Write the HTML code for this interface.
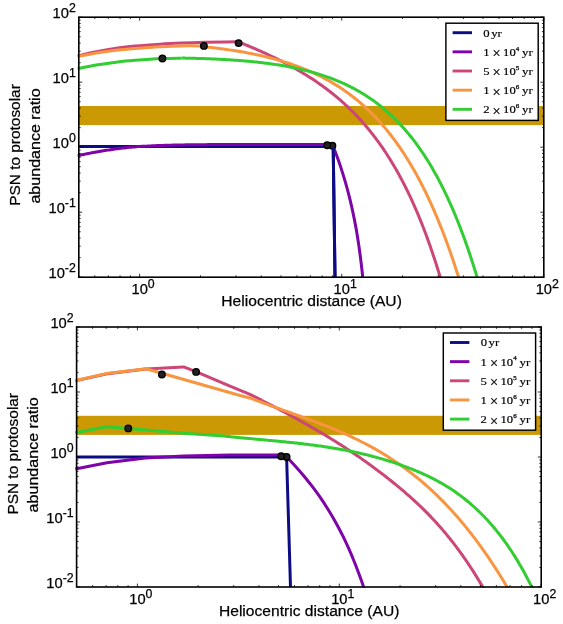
<!DOCTYPE html>
<html><head><meta charset="utf-8"><title>PSN abundance</title>
<style>
html,body{margin:0;padding:0;background:#fff;}
body{width:563px;height:624px;overflow:hidden;}
svg{display:block;}
text{fill:#000;stroke:#000;stroke-width:0.25px;}
svg{will-change:transform;}
.tl{font-family:"Liberation Sans",sans-serif;font-size:14.7px;}
.sp{font-size:12.3px;}
.al{font-family:"Liberation Sans",sans-serif;font-size:15.3px;}
.lg{font-family:"Liberation Serif",serif;font-size:11.2px;stroke-width:0.18px;}
.lsp{font-family:"Liberation Serif",serif;font-size:6.5px;}
.lx{font-family:"Liberation Serif",serif;font-size:14.4px;}
</style></head><body>
<svg width="563" height="624" viewBox="0 0 563 624">
<rect width="563" height="624" fill="#fff"/>
<clipPath id="c17"><rect x="77.30" y="17.20" width="466.50" height="260.60"/></clipPath>
<g clip-path="url(#c17)">
<rect x="78.80" y="106.00" width="465.00" height="19.10" fill="#cb9904"/>
<path d="M78.80,146.50 L333.20,146.50 L335.00,277.20" fill="none" stroke="#0c0c84" stroke-width="3.0" stroke-linejoin="round" stroke-linecap="butt"/>
<path d="M77.50,155.70 L78.35,155.53 L79.41,155.31 L80.66,155.05 L82.06,154.76 L83.58,154.45 L85.19,154.12 L86.86,153.78 L88.56,153.44 L90.25,153.10 L91.91,152.78 L93.50,152.47 L95.00,152.20 L96.43,151.95 L97.84,151.70 L99.24,151.46 L100.63,151.23 L102.02,151.00 L103.41,150.78 L104.80,150.56 L106.20,150.34 L107.62,150.13 L109.06,149.92 L110.51,149.71 L112.00,149.50 L113.50,149.29 L114.99,149.08 L116.49,148.88 L118.00,148.67 L119.52,148.47 L121.06,148.28 L122.63,148.08 L124.22,147.89 L125.85,147.71 L127.52,147.53 L129.24,147.36 L131.00,147.20 L132.79,147.05 L134.58,146.90 L136.39,146.75 L138.22,146.62 L140.09,146.49 L142.00,146.36 L143.97,146.24 L146.00,146.13 L148.11,146.01 L150.31,145.91 L152.60,145.80 L155.00,145.70 L157.48,145.60 L160.02,145.51 L162.62,145.42 L165.30,145.33 L168.04,145.25 L170.88,145.17 L173.80,145.10 L176.81,145.03 L179.94,144.97 L183.17,144.91 L186.52,144.85 L190.00,144.80 L193.61,144.75 L197.35,144.71 L201.21,144.68 L205.19,144.64 L209.26,144.62 L213.44,144.59 L217.70,144.57 L222.04,144.56 L226.45,144.54 L230.91,144.53 L235.44,144.51 L240.00,144.50 L244.74,144.49 L249.75,144.48 L254.96,144.48 L260.31,144.48 L265.73,144.48 L271.16,144.48 L276.51,144.48 L281.74,144.49 L286.77,144.49 L291.53,144.50 L295.97,144.50 L300.00,144.50 L303.72,144.50 L307.26,144.50 L310.62,144.50 L313.78,144.50 L316.74,144.50 L319.50,144.50 L322.05,144.50 L324.39,144.50 L326.51,144.50 L328.40,144.50 L330.07,144.50 L331.50,144.50 L332.39,144.60 L333.20,146.60 L333.99,148.60 L334.77,150.60 L335.54,152.60 L336.29,154.60 L337.03,156.60 L337.75,158.60 L338.47,160.60 L339.17,162.60 L339.85,164.60 L340.53,166.60 L341.19,168.60 L341.84,170.60 L342.48,172.60 L343.11,174.60 L343.73,176.60 L344.33,178.60 L344.92,180.60 L345.50,182.60 L346.07,184.60 L346.63,186.60 L347.18,188.60 L347.72,190.60 L348.25,192.60 L348.76,194.60 L349.27,196.60 L349.77,198.60 L350.25,200.60 L350.73,202.60 L351.19,204.60 L351.65,206.60 L352.10,208.60 L352.54,210.60 L352.96,212.60 L353.38,214.60 L353.79,216.60 L354.20,218.60 L354.59,220.60 L354.97,222.60 L355.35,224.60 L355.72,226.60 L356.08,228.60 L356.43,230.60 L356.77,232.60 L357.11,234.60 L357.44,236.60 L357.76,238.60 L358.07,240.60 L358.38,242.60 L358.68,244.60 L358.98,246.60 L359.26,248.60 L359.54,250.60 L359.81,252.60 L360.08,254.60 L360.34,256.60 L360.60,258.60 L360.85,260.60 L361.09,262.60 L361.33,264.60 L361.56,266.60 L361.79,268.60 L362.01,270.60 L362.22,272.60 L362.44,274.60 L362.64,276.60 L362.84,278.60 L363.04,280.60" fill="none" stroke="#7e03a8" stroke-width="3.0" stroke-linejoin="round" stroke-linecap="butt"/>
<path d="M77.50,56.00 C80.63,55.30 89.62,53.12 96.30,51.80 C102.98,50.48 111.15,49.05 117.60,48.10 C124.05,47.15 127.88,46.75 135.00,46.10 C142.12,45.45 152.53,44.70 160.30,44.20 C168.07,43.70 174.15,43.42 181.60,43.10 C189.05,42.78 197.77,42.50 205.00,42.30 C212.23,42.10 219.58,41.98 225.00,41.90 C230.42,41.82 235.42,41.82 237.50,41.80" fill="none" stroke="#cc4778" stroke-width="3.0" stroke-linejoin="round" stroke-linecap="butt"/>
<path d="M237.50,41.48 L239.00,42.08 L240.50,42.68 L242.00,43.29 L243.50,43.90 L245.00,44.52 L246.50,45.14 L248.00,45.76 L249.50,46.39 L251.00,47.03 L252.50,47.67 L254.00,48.31 L255.50,48.96 L257.00,49.62 L258.50,50.28 L260.00,50.94 L261.50,51.61 L263.00,52.29 L264.50,52.98 L266.00,53.67 L267.50,54.36 L269.00,55.06 L270.50,55.77 L272.00,56.49 L273.50,57.21 L275.00,57.94 L276.50,58.68 L278.00,59.42 L279.50,60.17 L281.00,60.93 L282.50,61.70 L284.00,62.48 L285.50,63.26 L287.00,64.06 L288.50,64.86 L290.00,65.67 L291.50,66.49 L293.00,67.32 L294.50,68.16 L296.00,69.01 L297.50,69.88 L299.00,70.75 L300.50,71.63 L302.00,72.52 L303.50,73.43 L305.00,74.34 L306.50,75.27 L308.00,76.21 L309.50,77.17 L311.00,78.13 L312.50,79.11 L314.00,80.11 L315.50,81.11 L317.00,82.13 L318.50,83.17 L320.00,84.22 L321.50,85.29 L323.00,86.37 L324.50,87.47 L326.00,88.58 L327.50,89.71 L329.00,90.86 L330.50,92.03 L332.00,93.22 L333.50,94.42 L335.00,95.64 L336.50,96.89 L338.00,98.15 L339.50,99.44 L341.00,100.74 L342.50,102.07 L344.00,103.42 L345.50,104.79 L347.00,106.19 L348.50,107.61 L350.00,109.05 L351.50,110.52 L353.00,112.02 L354.49,113.53 L355.97,115.06 L357.43,116.59 L358.87,118.13 L360.29,119.68 L361.69,121.23 L363.08,122.80 L364.45,124.37 L365.81,125.95 L367.15,127.53 L368.47,129.13 L369.78,130.73 L371.08,132.34 L372.36,133.96 L373.62,135.59 L374.87,137.22 L376.11,138.87 L377.33,140.52 L378.54,142.18 L379.74,143.84 L380.92,145.52 L382.09,147.20 L383.25,148.89 L384.39,150.58 L385.53,152.29 L386.65,154.00 L387.76,155.72 L388.86,157.45 L389.94,159.18 L391.02,160.92 L392.08,162.67 L393.14,164.43 L394.18,166.20 L395.21,167.97 L396.24,169.75 L397.25,171.54 L398.25,173.33 L399.24,175.13 L400.23,176.94 L401.20,178.76 L402.17,180.59 L403.12,182.42 L404.07,184.26 L405.01,186.10 L405.94,187.96 L406.86,189.82 L407.77,191.69 L408.67,193.56 L409.57,195.44 L410.46,197.33 L411.34,199.23 L412.21,201.13 L413.08,203.05 L413.93,204.96 L414.78,206.89 L415.63,208.82 L416.46,210.76 L417.29,212.71 L418.11,214.66 L418.93,216.62 L419.73,218.59 L420.54,220.56 L421.33,222.54 L422.12,224.53 L422.90,226.52 L423.68,228.52 L424.45,230.53 L425.21,232.55 L425.97,234.57 L426.72,236.60 L427.47,238.63 L428.21,240.67 L428.94,242.72 L429.67,244.77 L430.39,246.84 L431.11,248.90 L431.82,250.98 L432.53,253.06 L433.23,255.15 L433.93,257.24 L434.62,259.34 L435.31,261.45 L435.99,263.56 L436.67,265.68 L437.34,267.81 L438.01,269.94 L438.67,272.08 L439.33,274.23 L439.98,276.38 L440.63,278.54 L441.28,280.70" fill="none" stroke="#cc4778" stroke-width="3.0" stroke-linejoin="round" stroke-linecap="butt"/>
<path d="M77.50,56.60 C80.63,55.98 89.62,54.00 96.30,52.90 C102.98,51.80 111.15,50.73 117.60,50.00 C124.05,49.27 127.88,49.03 135.00,48.50 C142.12,47.97 152.53,47.23 160.30,46.80 C168.07,46.37 174.33,46.05 181.60,45.90 C188.87,45.75 200.18,45.90 203.90,45.90" fill="none" stroke="#f89540" stroke-width="3.0" stroke-linejoin="round" stroke-linecap="butt"/>
<path d="M203.90,46.72 L205.40,46.88 L206.90,47.04 L208.40,47.20 L209.90,47.37 L211.40,47.54 L212.90,47.71 L214.40,47.89 L215.90,48.07 L217.40,48.26 L218.90,48.45 L220.40,48.64 L221.90,48.84 L223.40,49.04 L224.90,49.24 L226.40,49.45 L227.90,49.66 L229.40,49.88 L230.90,50.11 L232.40,50.33 L233.90,50.56 L235.40,50.80 L236.90,51.04 L238.40,51.29 L239.90,51.54 L241.40,51.80 L242.90,52.06 L244.40,52.33 L245.90,52.60 L247.40,52.88 L248.90,53.17 L250.40,53.46 L251.90,53.75 L253.40,54.06 L254.90,54.36 L256.40,54.68 L257.90,55.00 L259.40,55.33 L260.90,55.66 L262.40,56.01 L263.90,56.36 L265.40,56.71 L266.90,57.08 L268.40,57.45 L269.90,57.82 L271.40,58.21 L272.90,58.60 L274.40,59.01 L275.90,59.42 L277.40,59.84 L278.90,60.26 L280.40,60.70 L281.90,61.15 L283.40,61.60 L284.90,62.06 L286.40,62.54 L287.90,63.02 L289.40,63.51 L290.90,64.01 L292.40,64.53 L293.90,65.05 L295.40,65.58 L296.90,66.13 L298.40,66.68 L299.90,67.25 L301.40,67.83 L302.90,68.42 L304.40,69.02 L305.90,69.64 L307.40,70.27 L308.90,70.91 L310.40,71.56 L311.90,72.23 L313.40,72.91 L314.90,73.60 L316.40,74.31 L317.90,75.03 L319.40,75.77 L320.90,76.52 L322.40,77.29 L323.90,78.07 L325.40,78.87 L326.90,79.68 L328.40,80.52 L329.90,81.36 L331.40,82.23 L332.90,83.11 L334.40,84.01 L335.90,84.93 L337.40,85.87 L338.90,86.83 L340.40,87.81 L341.90,88.80 L343.40,89.82 L344.90,90.86 L346.40,91.91 L347.90,92.99 L349.40,94.10 L350.90,95.22 L352.40,96.37 L353.90,97.54 L355.40,98.73 L356.90,99.95 L358.40,101.19 L359.90,102.46 L361.40,103.75 L362.90,105.07 L364.40,106.42 L365.90,107.79 L367.40,109.19 L368.90,110.62 L370.40,112.08 L371.90,113.57 L373.40,115.09 L374.87,116.61 L376.33,118.14 L377.77,119.69 L379.19,121.24 L380.59,122.80 L381.97,124.37 L383.33,125.94 L384.68,127.53 L386.01,129.12 L387.32,130.72 L388.61,132.34 L389.90,133.95 L391.16,135.58 L392.41,137.22 L393.65,138.86 L394.87,140.51 L396.08,142.17 L397.28,143.84 L398.46,145.51 L399.63,147.19 L400.78,148.88 L401.93,150.58 L403.06,152.29 L404.18,154.00 L405.28,155.72 L406.38,157.45 L407.47,159.18 L408.54,160.93 L409.60,162.68 L410.66,164.43 L411.70,166.20 L412.73,167.97 L413.76,169.75 L414.77,171.54 L415.77,173.33 L416.77,175.13 L417.75,176.94 L418.73,178.76 L419.70,180.58 L420.65,182.41 L421.60,184.24 L422.55,186.09 L423.48,187.94 L424.40,189.79 L425.32,191.66 L426.23,193.53 L427.13,195.40 L428.03,197.29 L428.91,199.18 L429.79,201.07 L430.67,202.98 L431.53,204.89 L432.39,206.80 L433.24,208.72 L434.09,210.65 L434.92,212.59 L435.76,214.53 L436.58,216.48 L437.40,218.44 L438.21,220.40 L439.02,222.36 L439.82,224.34 L440.61,226.32 L441.40,228.30 L442.19,230.30 L442.96,232.30 L443.73,234.30 L444.50,236.31 L445.26,238.33 L446.02,240.35 L446.77,242.38 L447.51,244.42 L448.25,246.46 L448.98,248.50 L449.71,250.56 L450.44,252.62 L451.16,254.68 L451.87,256.75 L452.58,258.83 L453.29,260.91 L453.99,263.00 L454.68,265.09 L455.38,267.19 L456.06,269.30 L456.75,271.41 L457.42,273.53 L458.10,275.65 L458.77,277.78 L459.43,279.91 L460.10,282.05" fill="none" stroke="#f89540" stroke-width="3.0" stroke-linejoin="round" stroke-linecap="butt"/>
<path d="M77.50,68.70 C80.63,68.08 89.62,66.13 96.30,65.00 C102.98,63.87 111.15,62.68 117.60,61.90 C124.05,61.12 127.53,60.85 135.00,60.30 C142.47,59.75 154.63,58.95 162.40,58.60 C170.17,58.25 178.40,58.27 181.60,58.20" fill="none" stroke="#32cd32" stroke-width="3.0" stroke-linejoin="round" stroke-linecap="butt"/>
<path d="M181.60,58.05 L183.10,58.07 L184.60,58.10 L186.10,58.13 L187.60,58.16 L189.10,58.19 L190.60,58.22 L192.10,58.26 L193.60,58.30 L195.10,58.33 L196.60,58.38 L198.10,58.42 L199.60,58.46 L201.10,58.51 L202.60,58.56 L204.10,58.61 L205.60,58.66 L207.10,58.71 L208.60,58.77 L210.10,58.83 L211.60,58.89 L213.10,58.96 L214.60,59.02 L216.10,59.09 L217.60,59.16 L219.10,59.24 L220.60,59.31 L222.10,59.39 L223.60,59.47 L225.10,59.56 L226.60,59.64 L228.10,59.73 L229.60,59.83 L231.10,59.92 L232.60,60.02 L234.10,60.13 L235.60,60.23 L237.10,60.34 L238.60,60.45 L240.10,60.57 L241.60,60.69 L243.10,60.81 L244.60,60.94 L246.10,61.07 L247.60,61.20 L249.10,61.34 L250.60,61.48 L252.10,61.63 L253.60,61.78 L255.10,61.94 L256.60,62.10 L258.10,62.26 L259.60,62.43 L261.10,62.60 L262.60,62.78 L264.10,62.96 L265.60,63.15 L267.10,63.34 L268.60,63.54 L270.10,63.74 L271.60,63.95 L273.10,64.17 L274.60,64.39 L276.10,64.61 L277.60,64.85 L279.10,65.08 L280.60,65.33 L282.10,65.58 L283.60,65.84 L285.10,66.10 L286.60,66.37 L288.10,66.65 L289.60,66.93 L291.10,67.22 L292.60,67.52 L294.10,67.83 L295.60,68.15 L297.10,68.47 L298.60,68.80 L300.10,69.14 L301.60,69.48 L303.10,69.84 L304.60,70.20 L306.10,70.58 L307.60,70.96 L309.10,71.35 L310.60,71.75 L312.10,72.16 L313.60,72.59 L315.10,73.02 L316.60,73.46 L318.10,73.91 L319.60,74.38 L321.10,74.85 L322.60,75.34 L324.10,75.84 L325.60,76.35 L327.10,76.87 L328.60,77.40 L330.10,77.95 L331.60,78.51 L333.10,79.08 L334.60,79.67 L336.10,80.27 L337.60,80.89 L339.10,81.52 L340.60,82.16 L342.10,82.82 L343.60,83.49 L345.10,84.18 L346.60,84.89 L348.10,85.61 L349.60,86.36 L351.10,87.11 L352.60,87.89 L354.10,88.68 L355.60,89.49 L357.10,90.32 L358.60,91.17 L360.10,92.04 L361.60,92.93 L363.10,93.84 L364.60,94.77 L366.10,95.72 L367.60,96.69 L369.10,97.69 L370.60,98.71 L372.10,99.75 L373.60,100.82 L375.10,101.91 L376.60,103.02 L378.10,104.16 L379.60,105.33 L381.10,106.52 L382.60,107.74 L384.10,108.99 L385.60,110.27 L387.10,111.58 L388.60,112.91 L390.10,114.28 L391.60,115.67 L393.10,117.10 L394.60,118.56 L396.10,120.05 L397.59,121.57 L399.06,123.10 L400.51,124.64 L401.94,126.19 L403.34,127.75 L404.73,129.32 L406.09,130.90 L407.44,132.48 L408.76,134.08 L410.07,135.69 L411.36,137.30 L412.64,138.93 L413.89,140.56 L415.14,142.20 L416.36,143.85 L417.57,145.51 L418.77,147.18 L419.95,148.86 L421.11,150.54 L422.26,152.24 L423.40,153.94 L424.53,155.65 L425.64,157.37 L426.74,159.10 L427.82,160.83 L428.90,162.58 L429.96,164.33 L431.01,166.09 L432.05,167.86 L433.08,169.63 L434.10,171.42 L435.11,173.21 L436.10,175.01 L437.09,176.82 L438.07,178.64 L439.04,180.46 L439.99,182.29 L440.94,184.13 L441.88,185.97 L442.81,187.83 L443.73,189.69 L444.64,191.56 L445.55,193.43 L446.44,195.32 L447.33,197.21 L448.21,199.11 L449.08,201.01 L449.94,202.92 L450.80,204.84 L451.65,206.77 L452.49,208.70 L453.32,210.64 L454.15,212.59 L454.97,214.55 L455.78,216.51 L456.59,218.48 L457.39,220.45 L458.18,222.44 L458.97,224.43 L459.75,226.42 L460.52,228.42 L461.29,230.43 L462.06,232.45 L462.81,234.47 L463.56,236.50 L464.31,238.54 L465.05,240.58 L465.78,242.63 L466.51,244.69 L467.23,246.75 L467.95,248.82 L468.66,250.89 L469.36,252.97 L470.07,255.06 L470.76,257.16 L471.45,259.26 L472.14,261.36 L472.82,263.48 L473.50,265.60 L474.17,267.72 L474.84,269.86 L475.51,271.99 L476.16,274.14 L476.82,276.29 L477.47,278.44 L478.11,280.61" fill="none" stroke="#32cd32" stroke-width="3.0" stroke-linejoin="round" stroke-linecap="butt"/>
<circle cx="162.40" cy="58.50" r="3.25" fill="#222" stroke="#000" stroke-width="1.4"/>
<circle cx="203.90" cy="45.90" r="3.25" fill="#222" stroke="#000" stroke-width="1.4"/>
<circle cx="238.60" cy="43.10" r="3.25" fill="#222" stroke="#000" stroke-width="1.4"/>
<circle cx="332.40" cy="145.80" r="3.25" fill="#222" stroke="#000" stroke-width="1.4"/>
<circle cx="327.20" cy="145.20" r="3.25" fill="#222" stroke="#000" stroke-width="1.4"/>
<path d="M333.20,147.50 L335.00,277.20" fill="none" stroke="#0c0c84" stroke-width="3.0"/>
</g>
<path d="M78.80,277.20 v-1.90 M78.80,17.20 v1.90 M94.80,277.20 v-1.90 M94.80,17.20 v1.90 M108.33,277.20 v-1.90 M108.33,17.20 v1.90 M120.05,277.20 v-1.90 M120.05,17.20 v1.90 M130.39,277.20 v-1.90 M130.39,17.20 v1.90 M139.63,277.20 v-3.40 M139.63,17.20 v3.40 M200.47,277.20 v-1.90 M200.47,17.20 v1.90 M236.05,277.20 v-1.90 M236.05,17.20 v1.90 M261.30,277.20 v-1.90 M261.30,17.20 v1.90 M280.88,277.20 v-1.90 M280.88,17.20 v1.90 M296.88,277.20 v-1.90 M296.88,17.20 v1.90 M310.41,277.20 v-1.90 M310.41,17.20 v1.90 M322.13,277.20 v-1.90 M322.13,17.20 v1.90 M332.47,277.20 v-1.90 M332.47,17.20 v1.90 M341.72,277.20 v-3.40 M341.72,17.20 v3.40 M402.55,277.20 v-1.90 M402.55,17.20 v1.90 M438.13,277.20 v-1.90 M438.13,17.20 v1.90 M463.38,277.20 v-1.90 M463.38,17.20 v1.90 M482.97,277.20 v-1.90 M482.97,17.20 v1.90 M498.97,277.20 v-1.90 M498.97,17.20 v1.90 M512.50,277.20 v-1.90 M512.50,17.20 v1.90 M524.22,277.20 v-1.90 M524.22,17.20 v1.90 M534.55,277.20 v-1.90 M534.55,17.20 v1.90 M543.80,277.20 v-3.40 M543.80,17.20 v3.40 M78.80,277.20 h3.40 M543.80,277.20 h-3.40 M78.80,257.63 h1.90 M543.80,257.63 h-1.90 M78.80,246.19 h1.90 M543.80,246.19 h-1.90 M78.80,238.07 h1.90 M543.80,238.07 h-1.90 M78.80,231.77 h1.90 M543.80,231.77 h-1.90 M78.80,226.62 h1.90 M543.80,226.62 h-1.90 M78.80,222.27 h1.90 M543.80,222.27 h-1.90 M78.80,218.50 h1.90 M543.80,218.50 h-1.90 M78.80,215.17 h1.90 M543.80,215.17 h-1.90 M78.80,212.20 h3.40 M543.80,212.20 h-3.40 M78.80,192.63 h1.90 M543.80,192.63 h-1.90 M78.80,181.19 h1.90 M543.80,181.19 h-1.90 M78.80,173.07 h1.90 M543.80,173.07 h-1.90 M78.80,166.77 h1.90 M543.80,166.77 h-1.90 M78.80,161.62 h1.90 M543.80,161.62 h-1.90 M78.80,157.27 h1.90 M543.80,157.27 h-1.90 M78.80,153.50 h1.90 M543.80,153.50 h-1.90 M78.80,150.17 h1.90 M543.80,150.17 h-1.90 M78.80,147.20 h3.40 M543.80,147.20 h-3.40 M78.80,127.63 h1.90 M543.80,127.63 h-1.90 M78.80,116.19 h1.90 M543.80,116.19 h-1.90 M78.80,108.07 h1.90 M543.80,108.07 h-1.90 M78.80,101.77 h1.90 M543.80,101.77 h-1.90 M78.80,96.62 h1.90 M543.80,96.62 h-1.90 M78.80,92.27 h1.90 M543.80,92.27 h-1.90 M78.80,88.50 h1.90 M543.80,88.50 h-1.90 M78.80,85.17 h1.90 M543.80,85.17 h-1.90 M78.80,82.20 h3.40 M543.80,82.20 h-3.40 M78.80,62.63 h1.90 M543.80,62.63 h-1.90 M78.80,51.19 h1.90 M543.80,51.19 h-1.90 M78.80,43.07 h1.90 M543.80,43.07 h-1.90 M78.80,36.77 h1.90 M543.80,36.77 h-1.90 M78.80,31.62 h1.90 M543.80,31.62 h-1.90 M78.80,27.27 h1.90 M543.80,27.27 h-1.90 M78.80,23.50 h1.90 M543.80,23.50 h-1.90 M78.80,20.17 h1.90 M543.80,20.17 h-1.90 M78.80,17.20 h3.40 M543.80,17.20 h-3.40" stroke="#000" stroke-width="0.8" fill="none"/>
<rect x="78.80" y="17.20" width="465.00" height="260.00" fill="none" stroke="#000" stroke-width="1.6"/>
<text x="75.80" y="277.70" text-anchor="end" class="tl">10<tspan class="sp" dy="-5.3">-2</tspan></text>
<text x="75.80" y="212.70" text-anchor="end" class="tl">10<tspan class="sp" dy="-5.3">-1</tspan></text>
<text x="75.80" y="147.70" text-anchor="end" class="tl">10<tspan class="sp" dy="-5.3">0</tspan></text>
<text x="75.80" y="82.70" text-anchor="end" class="tl">10<tspan class="sp" dy="-5.3">1</tspan></text>
<text x="75.80" y="17.70" text-anchor="end" class="tl">10<tspan class="sp" dy="-5.3">2</tspan></text>
<text x="131.53" y="293.70" text-anchor="start" class="tl">10<tspan class="sp" dy="-5.3">0</tspan></text>
<text x="333.62" y="293.70" text-anchor="start" class="tl">10<tspan class="sp" dy="-5.3">1</tspan></text>
<text x="535.70" y="293.70" text-anchor="start" class="tl">10<tspan class="sp" dy="-5.3">2</tspan></text>
<text x="311.60" y="305.90" text-anchor="middle" class="al" textLength="180.5" lengthAdjust="spacingAndGlyphs">Heliocentric distance (AU)</text>
<text transform="translate(20.20,145.00) rotate(-90)" text-anchor="middle" class="al" textLength="121.6" lengthAdjust="spacingAndGlyphs">PSN to protosolar</text>
<text transform="translate(40.10,146.00) rotate(-90)" text-anchor="middle" class="al" textLength="115.2" lengthAdjust="spacingAndGlyphs">abundance ratio</text>
<rect x="445.90" y="23.20" width="92.3" height="97.2" fill="#fff" stroke="#000" stroke-width="1.45"/>
<path d="M452.60,32.70 h19.4" stroke="#0c0c84" stroke-width="2.9"/>
<text x="483.30" y="36.60" class="lg" textLength="6.33" lengthAdjust="spacingAndGlyphs">0</text>
<text x="491.20" y="36.60" class="lg" textLength="10.70" lengthAdjust="spacingAndGlyphs">yr</text>
<path d="M452.60,51.85 h19.4" stroke="#7e03a8" stroke-width="2.9"/>
<text x="483.20" y="55.75" class="lg" textLength="6.33" lengthAdjust="spacingAndGlyphs">1</text>
<text x="492.50" y="58.25" class="lx" textLength="8.12" lengthAdjust="spacingAndGlyphs">×</text>
<text x="503.10" y="55.75" class="lg" textLength="12.66" lengthAdjust="spacingAndGlyphs">10</text>
<text x="515.80" y="50.65" class="lsp" textLength="3.50" lengthAdjust="spacingAndGlyphs">4</text>
<text x="522.10" y="55.75" class="lg" textLength="10.70" lengthAdjust="spacingAndGlyphs">yr</text>
<path d="M452.60,71.00 h19.4" stroke="#cc4778" stroke-width="2.9"/>
<text x="483.20" y="74.90" class="lg" textLength="6.33" lengthAdjust="spacingAndGlyphs">5</text>
<text x="492.50" y="77.40" class="lx" textLength="8.12" lengthAdjust="spacingAndGlyphs">×</text>
<text x="503.10" y="74.90" class="lg" textLength="12.66" lengthAdjust="spacingAndGlyphs">10</text>
<text x="515.80" y="69.80" class="lsp" textLength="3.50" lengthAdjust="spacingAndGlyphs">5</text>
<text x="522.10" y="74.90" class="lg" textLength="10.70" lengthAdjust="spacingAndGlyphs">yr</text>
<path d="M452.60,90.15 h19.4" stroke="#f89540" stroke-width="2.9"/>
<text x="483.20" y="94.05" class="lg" textLength="6.33" lengthAdjust="spacingAndGlyphs">1</text>
<text x="492.50" y="96.55" class="lx" textLength="8.12" lengthAdjust="spacingAndGlyphs">×</text>
<text x="503.10" y="94.05" class="lg" textLength="12.66" lengthAdjust="spacingAndGlyphs">10</text>
<text x="515.80" y="88.95" class="lsp" textLength="3.50" lengthAdjust="spacingAndGlyphs">6</text>
<text x="522.10" y="94.05" class="lg" textLength="10.70" lengthAdjust="spacingAndGlyphs">yr</text>
<path d="M452.60,109.30 h19.4" stroke="#32cd32" stroke-width="2.9"/>
<text x="483.20" y="113.20" class="lg" textLength="6.33" lengthAdjust="spacingAndGlyphs">2</text>
<text x="492.50" y="115.70" class="lx" textLength="8.12" lengthAdjust="spacingAndGlyphs">×</text>
<text x="503.10" y="113.20" class="lg" textLength="12.66" lengthAdjust="spacingAndGlyphs">10</text>
<text x="515.80" y="108.10" class="lsp" textLength="3.50" lengthAdjust="spacingAndGlyphs">6</text>
<text x="522.10" y="113.20" class="lg" textLength="10.70" lengthAdjust="spacingAndGlyphs">yr</text>
<clipPath id="c327"><rect x="75.10" y="327.00" width="466.10" height="260.60"/></clipPath>
<g clip-path="url(#c327)">
<rect x="76.60" y="415.80" width="464.60" height="19.10" fill="#cb9904"/>
<path d="M76.60,457.00 L286.60,457.00 L290.50,587.00" fill="none" stroke="#0c0c84" stroke-width="3.0" stroke-linejoin="round" stroke-linecap="butt"/>
<path d="M75.30,469.00 L106.90,462.80 L145.30,457.90 L183.70,455.90 L230.00,455.10 L284.50,455.00 L284.93,455.20 L286.90,457.20 L288.84,459.20 L290.74,461.20 L292.62,463.20 L294.46,465.20 L296.27,467.20 L298.06,469.20 L299.81,471.20 L301.53,473.20 L303.23,475.20 L304.89,477.20 L306.53,479.20 L308.14,481.20 L309.72,483.20 L311.27,485.20 L312.80,487.20 L314.30,489.20 L315.78,491.20 L317.23,493.20 L318.65,495.20 L320.05,497.20 L321.42,499.20 L322.77,501.20 L324.10,503.20 L325.41,505.20 L326.69,507.20 L327.94,509.20 L329.18,511.20 L330.40,513.20 L331.59,515.20 L332.76,517.20 L333.91,519.20 L335.04,521.20 L336.16,523.20 L337.25,525.20 L338.32,527.20 L339.38,529.20 L340.42,531.20 L341.44,533.20 L342.44,535.20 L343.42,537.20 L344.39,539.20 L345.34,541.20 L346.28,543.20 L347.20,545.20 L348.11,547.20 L349.00,549.20 L349.88,551.20 L350.74,553.20 L351.59,555.20 L352.43,557.20 L353.25,559.20 L354.07,561.20 L354.87,563.20 L355.66,565.20 L356.43,567.20 L357.20,569.20 L357.96,571.20 L358.71,573.20 L359.44,575.20 L360.17,577.20 L360.89,579.20 L361.61,581.20 L362.31,583.20 L363.01,585.20 L363.70,587.20 L364.38,589.20" fill="none" stroke="#7e03a8" stroke-width="3.0" stroke-linejoin="round" stroke-linecap="butt"/>
<path d="M75.30,380.90 L106.00,374.00 L145.90,368.90 L183.60,366.90 L195.90,371.70 L230.00,386.20 L250.00,394.38 L251.50,395.14 L253.00,395.90 L254.50,396.66 L256.00,397.42 L257.50,398.18 L259.00,398.95 L260.50,399.71 L262.00,400.48 L263.50,401.25 L265.00,402.02 L266.50,402.79 L268.00,403.56 L269.50,404.34 L271.00,405.12 L272.50,405.90 L274.00,406.68 L275.50,407.46 L277.00,408.25 L278.50,409.04 L280.00,409.83 L281.50,410.62 L283.00,411.42 L284.50,412.21 L286.00,413.02 L287.50,413.82 L289.00,414.63 L290.50,415.44 L292.00,416.25 L293.50,417.07 L295.00,417.89 L296.50,418.71 L298.00,419.54 L299.50,420.37 L301.00,421.20 L302.50,422.04 L304.00,422.88 L305.50,423.72 L307.00,424.57 L308.50,425.42 L310.00,426.28 L311.50,427.14 L313.00,428.00 L314.50,428.87 L316.00,429.75 L317.50,430.62 L319.00,431.51 L320.50,432.39 L322.00,433.28 L323.50,434.18 L325.00,435.08 L326.50,435.99 L328.00,436.90 L329.50,437.82 L331.00,438.74 L332.50,439.66 L334.00,440.60 L335.50,441.53 L337.00,442.48 L338.50,443.43 L340.00,444.38 L341.50,445.34 L343.00,446.31 L344.50,447.28 L346.00,448.26 L347.50,449.24 L349.00,450.23 L350.50,451.23 L352.00,452.23 L353.50,453.24 L355.00,454.26 L356.50,455.28 L358.00,456.31 L359.50,457.34 L361.00,458.39 L362.50,459.43 L364.00,460.49 L365.50,461.55 L367.00,462.63 L368.50,463.70 L370.00,464.79 L371.50,465.88 L373.00,466.98 L374.50,468.09 L376.00,469.20 L377.50,470.33 L379.00,471.46 L380.50,472.60 L382.00,473.74 L383.50,474.90 L385.00,476.06 L386.50,477.23 L388.00,478.41 L389.50,479.60 L391.00,480.79 L392.50,482.00 L394.00,483.21 L395.50,484.43 L397.00,485.66 L398.50,486.90 L400.00,488.15 L401.50,489.41 L403.00,490.68 L404.50,491.96 L406.00,493.26 L407.50,494.56 L409.00,495.88 L410.50,497.21 L412.00,498.56 L413.50,499.92 L415.00,501.29 L416.50,502.68 L418.00,504.09 L419.50,505.51 L421.00,506.95 L422.50,508.41 L424.00,509.88 L425.50,511.37 L427.00,512.88 L428.48,514.40 L429.96,515.92 L431.42,517.45 L432.86,518.98 L434.30,520.52 L435.72,522.07 L437.13,523.62 L438.52,525.17 L439.91,526.74 L441.28,528.31 L442.64,529.88 L443.98,531.46 L445.32,533.05 L446.64,534.64 L447.95,536.24 L449.25,537.84 L450.54,539.45 L451.82,541.07 L453.09,542.69 L454.34,544.32 L455.59,545.96 L456.83,547.60 L458.05,549.24 L459.27,550.89 L460.47,552.55 L461.66,554.21 L462.85,555.88 L464.03,557.56 L465.19,559.24 L466.35,560.92 L467.50,562.62 L468.63,564.31 L469.76,566.02 L470.88,567.73 L472.00,569.44 L473.10,571.16 L474.20,572.89 L475.28,574.62 L476.36,576.36 L477.43,578.10 L478.50,579.84 L479.55,581.60 L480.60,583.36 L481.64,585.12 L482.67,586.89 L483.70,588.66 L484.30,589.72" fill="none" stroke="#cc4778" stroke-width="3.0" stroke-linejoin="round" stroke-linecap="butt"/>
<path d="M75.30,380.50 L106.00,373.60 L146.10,368.80 L240.00,395.50 L250.00,397.93 L251.50,398.51 L253.00,399.10 L254.50,399.67 L256.00,400.24 L257.50,400.81 L259.00,401.38 L260.50,401.94 L262.00,402.50 L263.50,403.05 L265.00,403.61 L266.50,404.16 L268.00,404.71 L269.50,405.25 L271.00,405.79 L272.50,406.34 L274.00,406.88 L275.50,407.41 L277.00,407.95 L278.50,408.49 L280.00,409.02 L281.50,409.55 L283.00,410.09 L284.50,410.62 L286.00,411.15 L287.50,411.68 L289.00,412.22 L290.50,412.75 L292.00,413.28 L293.50,413.82 L295.00,414.35 L296.50,414.89 L298.00,415.42 L299.50,415.96 L301.00,416.50 L302.50,417.04 L304.00,417.59 L305.50,418.13 L307.00,418.68 L308.50,419.23 L310.00,419.78 L311.50,420.34 L313.00,420.90 L314.50,421.46 L316.00,422.02 L317.50,422.59 L319.00,423.16 L320.50,423.74 L322.00,424.32 L323.50,424.91 L325.00,425.50 L326.50,426.09 L328.00,426.69 L329.50,427.29 L331.00,427.90 L332.50,428.52 L334.00,429.14 L335.50,429.76 L337.00,430.40 L338.50,431.03 L340.00,431.68 L341.50,432.33 L343.00,432.99 L344.50,433.65 L346.00,434.32 L347.50,435.00 L349.00,435.69 L350.50,436.38 L352.00,437.08 L353.50,437.79 L355.00,438.51 L356.50,439.24 L358.00,439.97 L359.50,440.72 L361.00,441.47 L362.50,442.23 L364.00,443.00 L365.50,443.78 L367.00,444.57 L368.50,445.37 L370.00,446.18 L371.50,447.00 L373.00,447.83 L374.50,448.67 L376.00,449.52 L377.50,450.38 L379.00,451.25 L380.50,452.14 L382.00,453.03 L383.50,453.94 L385.00,454.86 L386.50,455.79 L388.00,456.74 L389.50,457.69 L391.00,458.66 L392.50,459.64 L394.00,460.64 L395.50,461.64 L397.00,462.66 L398.50,463.70 L400.00,464.74 L401.50,465.81 L403.00,466.88 L404.50,467.97 L406.00,469.07 L407.50,470.19 L409.00,471.33 L410.50,472.47 L412.00,473.64 L413.50,474.82 L415.00,476.01 L416.50,477.22 L418.00,478.44 L419.50,479.69 L421.00,480.94 L422.50,482.22 L424.00,483.51 L425.50,484.82 L427.00,486.14 L428.50,487.48 L430.00,488.84 L431.50,490.22 L433.00,491.62 L434.50,493.03 L436.00,494.46 L437.50,495.91 L439.00,497.38 L440.50,498.87 L442.00,500.38 L443.49,501.89 L444.96,503.41 L446.43,504.94 L447.88,506.47 L449.32,508.00 L450.74,509.55 L452.16,511.09 L453.56,512.65 L454.95,514.20 L456.33,515.77 L457.70,517.34 L459.06,518.91 L460.40,520.49 L461.74,522.07 L463.07,523.66 L464.39,525.26 L465.69,526.86 L466.99,528.46 L468.28,530.07 L469.56,531.69 L470.83,533.30 L472.09,534.93 L473.34,536.56 L474.58,538.19 L475.82,539.83 L477.04,541.47 L478.26,543.12 L479.47,544.77 L480.67,546.43 L481.86,548.09 L483.05,549.76 L484.23,551.43 L485.40,553.11 L486.56,554.79 L487.72,556.47 L488.87,558.16 L490.01,559.85 L491.14,561.55 L492.27,563.25 L493.39,564.96 L494.51,566.67 L495.62,568.39 L496.72,570.11 L497.81,571.83 L498.90,573.56 L499.98,575.29 L501.06,577.03 L502.13,578.77 L503.20,580.51 L504.26,582.26 L505.31,584.01 L506.36,585.77 L507.40,587.53 L508.43,589.29 L508.60,589.58" fill="none" stroke="#f89540" stroke-width="3.0" stroke-linejoin="round" stroke-linecap="butt"/>
<path d="M75.30,432.70 L106.90,426.70 L128.30,428.40 L183.70,433.20 L220.00,435.65 L221.50,435.81 L223.00,435.97 L224.50,436.13 L226.00,436.29 L227.50,436.44 L229.00,436.60 L230.50,436.75 L232.00,436.90 L233.50,437.05 L235.00,437.19 L236.50,437.34 L238.00,437.48 L239.50,437.63 L241.00,437.77 L242.50,437.91 L244.00,438.05 L245.50,438.19 L247.00,438.33 L248.50,438.47 L250.00,438.61 L251.50,438.75 L253.00,438.88 L254.50,439.02 L256.00,439.16 L257.50,439.29 L259.00,439.43 L260.50,439.57 L262.00,439.70 L263.50,439.84 L265.00,439.98 L266.50,440.12 L268.00,440.26 L269.50,440.40 L271.00,440.53 L272.50,440.68 L274.00,440.82 L275.50,440.96 L277.00,441.10 L278.50,441.25 L280.00,441.39 L281.50,441.54 L283.00,441.69 L284.50,441.84 L286.00,441.99 L287.50,442.14 L289.00,442.30 L290.50,442.46 L292.00,442.61 L293.50,442.78 L295.00,442.94 L296.50,443.10 L298.00,443.27 L299.50,443.44 L301.00,443.61 L302.50,443.79 L304.00,443.96 L305.50,444.14 L307.00,444.33 L308.50,444.51 L310.00,444.70 L311.50,444.89 L313.00,445.09 L314.50,445.28 L316.00,445.49 L317.50,445.69 L319.00,445.90 L320.50,446.11 L322.00,446.33 L323.50,446.54 L325.00,446.77 L326.50,446.99 L328.00,447.22 L329.50,447.46 L331.00,447.70 L332.50,447.94 L334.00,448.19 L335.50,448.44 L337.00,448.70 L338.50,448.96 L340.00,449.23 L341.50,449.50 L343.00,449.77 L344.50,450.05 L346.00,450.34 L347.50,450.63 L349.00,450.92 L350.50,451.23 L352.00,451.53 L353.50,451.84 L355.00,452.16 L356.50,452.48 L358.00,452.81 L359.50,453.15 L361.00,453.49 L362.50,453.84 L364.00,454.19 L365.50,454.55 L367.00,454.91 L368.50,455.29 L370.00,455.66 L371.50,456.05 L373.00,456.44 L374.50,456.84 L376.00,457.24 L377.50,457.65 L379.00,458.07 L380.50,458.50 L382.00,458.93 L383.50,459.37 L385.00,459.82 L386.50,460.27 L388.00,460.73 L389.50,461.20 L391.00,461.68 L392.50,462.17 L394.00,462.66 L395.50,463.16 L397.00,463.67 L398.50,464.19 L400.00,464.71 L401.50,465.24 L403.00,465.79 L404.50,466.34 L406.00,466.89 L407.50,467.46 L409.00,468.04 L410.50,468.62 L412.00,469.22 L413.50,469.82 L415.00,470.43 L416.50,471.05 L418.00,471.68 L419.50,472.33 L421.00,472.98 L422.50,473.64 L424.00,474.32 L425.50,475.01 L427.00,475.71 L428.50,476.42 L430.00,477.15 L431.50,477.89 L433.00,478.65 L434.50,479.42 L436.00,480.21 L437.50,481.02 L439.00,481.84 L440.50,482.68 L442.00,483.53 L443.50,484.41 L445.00,485.30 L446.50,486.21 L448.00,487.14 L449.50,488.09 L451.00,489.06 L452.50,490.05 L454.00,491.07 L455.50,492.10 L457.00,493.16 L458.50,494.24 L460.00,495.34 L461.50,496.47 L463.00,497.62 L464.50,498.80 L466.00,500.00 L467.50,501.22 L469.00,502.47 L470.50,503.75 L472.00,505.06 L473.50,506.39 L475.00,507.75 L476.50,509.14 L478.00,510.56 L479.50,512.01 L481.00,513.48 L482.50,514.99 L483.98,516.51 L485.45,518.04 L486.89,519.58 L488.32,521.13 L489.72,522.69 L491.11,524.26 L492.48,525.83 L493.83,527.41 L495.16,529.01 L496.47,530.61 L497.77,532.22 L499.05,533.84 L500.31,535.47 L501.56,537.11 L502.80,538.75 L504.01,540.41 L505.22,542.07 L506.41,543.74 L507.58,545.42 L508.74,547.11 L509.89,548.80 L511.03,550.51 L512.15,552.22 L513.26,553.94 L514.35,555.67 L515.44,557.41 L516.51,559.15 L517.57,560.90 L518.63,562.66 L519.67,564.43 L520.70,566.21 L521.71,567.99 L522.72,569.78 L523.72,571.58 L524.71,573.39 L525.69,575.20 L526.66,577.02 L527.62,578.85 L528.57,580.68 L529.52,582.52 L530.45,584.37 L531.38,586.23 L532.30,588.09 L532.60,588.70" fill="none" stroke="#32cd32" stroke-width="3.0" stroke-linejoin="round" stroke-linecap="butt"/>
<circle cx="128.30" cy="428.40" r="3.25" fill="#222" stroke="#000" stroke-width="1.4"/>
<circle cx="161.90" cy="374.50" r="3.25" fill="#222" stroke="#000" stroke-width="1.4"/>
<circle cx="196.10" cy="371.90" r="3.25" fill="#222" stroke="#000" stroke-width="1.4"/>
<circle cx="286.60" cy="457.00" r="3.25" fill="#222" stroke="#000" stroke-width="1.4"/>
<circle cx="281.20" cy="456.20" r="3.25" fill="#222" stroke="#000" stroke-width="1.4"/>
</g>
<path d="M76.60,587.00 v-1.90 M76.60,327.00 v1.90 M92.59,587.00 v-1.90 M92.59,327.00 v1.90 M106.10,587.00 v-1.90 M106.10,327.00 v1.90 M117.81,587.00 v-1.90 M117.81,327.00 v1.90 M128.14,587.00 v-1.90 M128.14,327.00 v1.90 M137.38,587.00 v-3.40 M137.38,327.00 v3.40 M198.16,587.00 v-1.90 M198.16,327.00 v1.90 M233.72,587.00 v-1.90 M233.72,327.00 v1.90 M258.94,587.00 v-1.90 M258.94,327.00 v1.90 M278.51,587.00 v-1.90 M278.51,327.00 v1.90 M294.50,587.00 v-1.90 M294.50,327.00 v1.90 M308.01,587.00 v-1.90 M308.01,327.00 v1.90 M319.72,587.00 v-1.90 M319.72,327.00 v1.90 M330.05,587.00 v-1.90 M330.05,327.00 v1.90 M339.29,587.00 v-3.40 M339.29,327.00 v3.40 M400.07,587.00 v-1.90 M400.07,327.00 v1.90 M435.63,587.00 v-1.90 M435.63,327.00 v1.90 M460.85,587.00 v-1.90 M460.85,327.00 v1.90 M480.42,587.00 v-1.90 M480.42,327.00 v1.90 M496.41,587.00 v-1.90 M496.41,327.00 v1.90 M509.92,587.00 v-1.90 M509.92,327.00 v1.90 M521.63,587.00 v-1.90 M521.63,327.00 v1.90 M531.96,587.00 v-1.90 M531.96,327.00 v1.90 M541.20,587.00 v-3.40 M541.20,327.00 v3.40 M76.60,587.00 h3.40 M541.20,587.00 h-3.40 M76.60,567.43 h1.90 M541.20,567.43 h-1.90 M76.60,555.99 h1.90 M541.20,555.99 h-1.90 M76.60,547.87 h1.90 M541.20,547.87 h-1.90 M76.60,541.57 h1.90 M541.20,541.57 h-1.90 M76.60,536.42 h1.90 M541.20,536.42 h-1.90 M76.60,532.07 h1.90 M541.20,532.07 h-1.90 M76.60,528.30 h1.90 M541.20,528.30 h-1.90 M76.60,524.97 h1.90 M541.20,524.97 h-1.90 M76.60,522.00 h3.40 M541.20,522.00 h-3.40 M76.60,502.43 h1.90 M541.20,502.43 h-1.90 M76.60,490.99 h1.90 M541.20,490.99 h-1.90 M76.60,482.87 h1.90 M541.20,482.87 h-1.90 M76.60,476.57 h1.90 M541.20,476.57 h-1.90 M76.60,471.42 h1.90 M541.20,471.42 h-1.90 M76.60,467.07 h1.90 M541.20,467.07 h-1.90 M76.60,463.30 h1.90 M541.20,463.30 h-1.90 M76.60,459.97 h1.90 M541.20,459.97 h-1.90 M76.60,457.00 h3.40 M541.20,457.00 h-3.40 M76.60,437.43 h1.90 M541.20,437.43 h-1.90 M76.60,425.99 h1.90 M541.20,425.99 h-1.90 M76.60,417.87 h1.90 M541.20,417.87 h-1.90 M76.60,411.57 h1.90 M541.20,411.57 h-1.90 M76.60,406.42 h1.90 M541.20,406.42 h-1.90 M76.60,402.07 h1.90 M541.20,402.07 h-1.90 M76.60,398.30 h1.90 M541.20,398.30 h-1.90 M76.60,394.97 h1.90 M541.20,394.97 h-1.90 M76.60,392.00 h3.40 M541.20,392.00 h-3.40 M76.60,372.43 h1.90 M541.20,372.43 h-1.90 M76.60,360.99 h1.90 M541.20,360.99 h-1.90 M76.60,352.87 h1.90 M541.20,352.87 h-1.90 M76.60,346.57 h1.90 M541.20,346.57 h-1.90 M76.60,341.42 h1.90 M541.20,341.42 h-1.90 M76.60,337.07 h1.90 M541.20,337.07 h-1.90 M76.60,333.30 h1.90 M541.20,333.30 h-1.90 M76.60,329.97 h1.90 M541.20,329.97 h-1.90 M76.60,327.00 h3.40 M541.20,327.00 h-3.40" stroke="#000" stroke-width="0.8" fill="none"/>
<rect x="76.60" y="327.00" width="464.60" height="260.00" fill="none" stroke="#000" stroke-width="1.6"/>
<text x="73.60" y="587.50" text-anchor="end" class="tl">10<tspan class="sp" dy="-5.3">-2</tspan></text>
<text x="73.60" y="522.50" text-anchor="end" class="tl">10<tspan class="sp" dy="-5.3">-1</tspan></text>
<text x="73.60" y="457.50" text-anchor="end" class="tl">10<tspan class="sp" dy="-5.3">0</tspan></text>
<text x="73.60" y="392.50" text-anchor="end" class="tl">10<tspan class="sp" dy="-5.3">1</tspan></text>
<text x="73.60" y="327.50" text-anchor="end" class="tl">10<tspan class="sp" dy="-5.3">2</tspan></text>
<text x="129.28" y="603.50" text-anchor="start" class="tl">10<tspan class="sp" dy="-5.3">0</tspan></text>
<text x="331.19" y="603.50" text-anchor="start" class="tl">10<tspan class="sp" dy="-5.3">1</tspan></text>
<text x="533.10" y="603.50" text-anchor="start" class="tl">10<tspan class="sp" dy="-5.3">2</tspan></text>
<text x="309.20" y="615.70" text-anchor="middle" class="al" textLength="180.5" lengthAdjust="spacingAndGlyphs">Heliocentric distance (AU)</text>
<text transform="translate(18.00,453.80) rotate(-90)" text-anchor="middle" class="al" textLength="121.6" lengthAdjust="spacingAndGlyphs">PSN to protosolar</text>
<text transform="translate(37.90,454.80) rotate(-90)" text-anchor="middle" class="al" textLength="115.2" lengthAdjust="spacingAndGlyphs">abundance ratio</text>
<rect x="443.30" y="333.00" width="92.3" height="97.2" fill="#fff" stroke="#000" stroke-width="1.45"/>
<path d="M450.00,342.50 h19.4" stroke="#0c0c84" stroke-width="2.9"/>
<text x="480.70" y="346.40" class="lg" textLength="6.33" lengthAdjust="spacingAndGlyphs">0</text>
<text x="488.60" y="346.40" class="lg" textLength="10.70" lengthAdjust="spacingAndGlyphs">yr</text>
<path d="M450.00,361.65 h19.4" stroke="#7e03a8" stroke-width="2.9"/>
<text x="480.60" y="365.55" class="lg" textLength="6.33" lengthAdjust="spacingAndGlyphs">1</text>
<text x="489.90" y="368.05" class="lx" textLength="8.12" lengthAdjust="spacingAndGlyphs">×</text>
<text x="500.50" y="365.55" class="lg" textLength="12.66" lengthAdjust="spacingAndGlyphs">10</text>
<text x="513.20" y="360.45" class="lsp" textLength="3.50" lengthAdjust="spacingAndGlyphs">4</text>
<text x="519.50" y="365.55" class="lg" textLength="10.70" lengthAdjust="spacingAndGlyphs">yr</text>
<path d="M450.00,380.80 h19.4" stroke="#cc4778" stroke-width="2.9"/>
<text x="480.60" y="384.70" class="lg" textLength="6.33" lengthAdjust="spacingAndGlyphs">5</text>
<text x="489.90" y="387.20" class="lx" textLength="8.12" lengthAdjust="spacingAndGlyphs">×</text>
<text x="500.50" y="384.70" class="lg" textLength="12.66" lengthAdjust="spacingAndGlyphs">10</text>
<text x="513.20" y="379.60" class="lsp" textLength="3.50" lengthAdjust="spacingAndGlyphs">5</text>
<text x="519.50" y="384.70" class="lg" textLength="10.70" lengthAdjust="spacingAndGlyphs">yr</text>
<path d="M450.00,399.95 h19.4" stroke="#f89540" stroke-width="2.9"/>
<text x="480.60" y="403.85" class="lg" textLength="6.33" lengthAdjust="spacingAndGlyphs">1</text>
<text x="489.90" y="406.35" class="lx" textLength="8.12" lengthAdjust="spacingAndGlyphs">×</text>
<text x="500.50" y="403.85" class="lg" textLength="12.66" lengthAdjust="spacingAndGlyphs">10</text>
<text x="513.20" y="398.75" class="lsp" textLength="3.50" lengthAdjust="spacingAndGlyphs">6</text>
<text x="519.50" y="403.85" class="lg" textLength="10.70" lengthAdjust="spacingAndGlyphs">yr</text>
<path d="M450.00,419.10 h19.4" stroke="#32cd32" stroke-width="2.9"/>
<text x="480.60" y="423.00" class="lg" textLength="6.33" lengthAdjust="spacingAndGlyphs">2</text>
<text x="489.90" y="425.50" class="lx" textLength="8.12" lengthAdjust="spacingAndGlyphs">×</text>
<text x="500.50" y="423.00" class="lg" textLength="12.66" lengthAdjust="spacingAndGlyphs">10</text>
<text x="513.20" y="417.90" class="lsp" textLength="3.50" lengthAdjust="spacingAndGlyphs">6</text>
<text x="519.50" y="423.00" class="lg" textLength="10.70" lengthAdjust="spacingAndGlyphs">yr</text>
</svg>
</body></html>
